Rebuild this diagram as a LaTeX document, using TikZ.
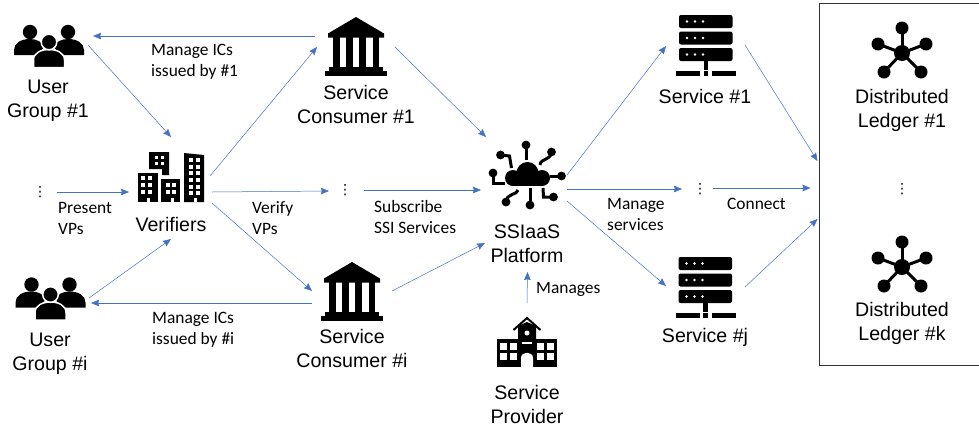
\documentclass[tikz,border=0pt]{standalone}
\usepackage{fontspec}
\setmainfont{Liberation Sans}
\newfontfamily\edgefont{Carlito}
\newfontfamily\symfont{DejaVu Sans}
\usetikzlibrary{arrows.meta}
\definecolor{linkblue}{HTML}{4472C4}
\tikzset{
    spot/.style={inner sep=0pt,minimum size=0pt},
    lbl/.style={font=\fontsize{19.6}{24}\selectfont,align=center,inner sep=0pt},
    tt/.style={font=\edgefont\fontsize{17.4}{21}\selectfont,align=left,anchor=west,inner sep=0pt},
    vdot/.style={font=\symfont\fontsize{14}{14}\selectfont,inner sep=0pt},
    conn/.style={draw=linkblue,line width=0.5pt,-{Stealth[length=8pt,width=6.5pt,inset=0.8pt]}},
    ledgerbox/.style={draw=black!80,line width=1pt,minimum width=164.5pt,minimum height=362pt,inner sep=0pt},
    usersicon/.pic={
        \fill (-19,-13) circle (7.2) (19,-13) circle (7.2);
        \fill (-35,10) -- (-35,5) .. controls (-35,-2) and (-28,-6) .. (-19,-6)
            .. controls (-12,-6) and (-7,-3) .. (-4,2) -- (-14,10) -- cycle;
        \fill (35,10) -- (35,5) .. controls (35,-2) and (28,-6) .. (19,-6)
            .. controls (12,-6) and (7,-3) .. (4,2) -- (14,10) -- cycle;
        \fill[draw=white,line width=1.5pt] (-15.5,22.5) -- (-15.5,15) .. controls (-15.5,8) and (-8,4.5) .. (0,4.5)
            .. controls (8,4.5) and (15.5,8) .. (15.5,15) -- (15.5,22.5) -- cycle;
        \fill[draw=white,line width=1.5pt] (0,-3) circle (7.8);
    },
    banksicon/.pic={
        \fill (0,-29.5) -- (28,-13) -- (28,-9) -- (-28,-9) -- (-28,-13) -- cycle;
        \foreach \x in {-23,-10,3.4,16.7} \fill (\x,-10) rectangle ++(6.6,31);
        \fill (-27,20) rectangle (27,25);
        \fill (-31,24) rectangle (31,29.5);
    },
    citysicon/.pic={
        \fill (-22,-25) -- (-2,-25) -- (-2,-2) -- (-9,-2) -- (-9,-8) -- (-22,-8) -- cycle;
        \fill (-33,-4) rectangle (-13,25);
        \fill (-10,2) rectangle (9,25);
        \fill (13,-24) -- (33,-22) -- (33,25) -- (13,25) -- cycle;
        \foreach \x in {-28,-21} \foreach \y in {1,8,15} \fill[white] (\x,\y) ++(-1.7,-1.7) rectangle ++(3.4,3.4);
        \foreach \x in {-14.5,-9} \foreach \y in {-20,-14} \fill[white] (\x,\y) ++(-1.5,-1.5) rectangle ++(3,3);
        \foreach \x in {-3,3} \foreach \y in {8,15} \fill[white] (\x,\y) ++(-1.7,-1.7) rectangle ++(3.4,3.4);
        \foreach \x in {20,27} \foreach \y in {-17,-10,-4,3,10,16} \fill[white] (\x,\y) ++(-1.6,-1.6) rectangle ++(3.2,3.2);
        \foreach \x in {-24.5,-0.5,23} \fill[white] (\x,21) rectangle ++(3,4);
    },
    cloudsicon/.pic={
        \fill (0,-2) circle (11) (-14.5,3) circle (8) (14.5,3) circle (8);
        \fill (-14.5,0) rectangle (14.5,11);
        \draw[line width=3pt] (-1.5,-30) -- (-1.5,-15);
        \draw[line width=3pt] (-27,-20) -- (-18,-19) -- (-16,-7);
        \draw[line width=3pt] (-34.5,-2) -- (-34.5,8) -- (-22.5,8);
        \draw[line width=3pt] (24,-23) .. controls (23,-14) and (13,-17) .. (12.5,-10);
        \draw[line width=3pt] (34,1) -- (22,1);
        \draw[line width=3pt] (2.5,30) -- (2.5,13);
        \draw[line width=3pt] (-21.5,27) .. controls (-21,18) and (-10,20) .. (-9.5,15);
        \draw[line width=3pt] (26,22) -- (16,22) -- (15.5,13);
        \foreach \p in {(-1.5,-30),(-27,-20),(-34.5,-2),(24,-23),(34,1),(2.5,30),(-21.5,27),(26,22)}
            \fill \p circle (4.4);
    },
    schoolicon/.pic={
        \fill (-30,-3) rectangle (30,25);
        \fill (-9,-16) -- (0,-20) -- (9,-16) -- (9,0) -- (-9,0) -- cycle;
        \draw[line width=2pt] (-13.5,-12) -- (0,-24) -- (13.5,-12);
        \foreach \x in {-27,-17,10,20} \foreach \y in {1,11} \fill[white] (\x,\y) rectangle ++(7,7);
        \fill[white] (0,-9) circle (2.5);
        \fill[white] (-5,0) rectangle (5,2);
        \fill[white] (-6,25) -- (-6,16) .. controls (-6,9) and (6,9) .. (6,16) -- (6,25) -- cycle;
    },
    serversicon/.pic={
        \foreach \y in {-30.5,-14,2.5} {
            \fill[rounded corners=2pt] (-27,\y) rectangle ++(53.5,13);
            \foreach \x in {-19,-11,-3} \fill[white] (\x,\y+6.5) circle (1.3);
        }
        \fill (-2.5,15) rectangle (2,24);
        \fill (-30,25.5) rectangle (-6,30.5);
        \fill (-2.5,25.5) rectangle (2,30.5);
        \fill (6,25.5) rectangle (30,30.5);
    },
    ledgersicon/.pic={
        \foreach \p in {(0,-25),(-24,-9),(24,-9),(-18,19),(19,19)} {
            \draw[line width=3pt] (0,0) -- \p;
            \fill \p circle (6.5);
        }
        \fill (0,0) circle (8);
    },
}
\begin{document}
\begin{tikzpicture}[x=1pt,y=-1pt]
\clip (0,0) rectangle (979,432);
\fill[white] (0,0) rectangle (979,432);
% icons
\node[spot] (ug1) at (49,45) {};
\node[spot] (ugi) at (50.5,297.5) {};
\node[spot] (ver) at (171,177) {};
\node[spot] (sc1) at (356,46.5) {};
\node[spot] (sci) at (352,291.5) {};
\node[spot] (ssi) at (527.5,175) {};
\node[spot] (spv) at (527,342) {};
\node[spot] (srv1) at (706,45.5) {};
\node[spot] (srvj) at (705.5,287.5) {};
\node[spot] (dl1) at (902,53) {};
\node[spot] (dlk) at (902,267) {};
\node[ledgerbox] (ldgr) at (901.75,184) {};
\pic at (ug1) {usersicon};
\pic at (ugi) {usersicon};
\pic at (ver) {citysicon};
\pic at (sc1) {banksicon};
\pic at (sci) {banksicon};
\pic at (ssi) {cloudsicon};
\pic at (spv) {schoolicon};
\pic at (srv1) {serversicon};
\pic at (srvj) {serversicon};
\pic at (dl1) {ledgersicon};
\pic at (dlk) {ledgersicon};
% labels
\node[lbl] (ug1t) at (48,101) {User\\Group \#1};
\node[lbl] (ugit) at (50,354) {User\\Group \#i};
\node[lbl] (vert) at (171,224.5) {Verifiers};
\node[lbl] (sc1t) at (356,104) {Service\\Consumer \#1};
\node[lbl] (scit) at (352,348) {Service\\Consumer \#i};
\node[lbl] (ssit) at (527,244) {SSIaaS\\Platform};
\node[lbl] (spvt) at (527,404) {Service\\Provider};
\node[lbl] (srv1t) at (705,96.5) {Service \#1};
\node[lbl] (srvjt) at (705,337.5) {Service \#j};
\node[lbl] (dl1t) at (902,110) {Distributed\\Ledger \#1};
\node[lbl] (dlkt) at (902,323.5) {Distributed\\Ledger \#k};
% dots
\node[vdot] (d0) at (40,192) {⋮};
\node[vdot] (d1) at (345,190) {⋮};
\node[vdot] (d2) at (700,189) {⋮};
\node[vdot] (d3) at (902,189) {⋮};
% edge labels
\node[tt] (e1) at (151,62) {Manage ICs\\issued by \#1};
\node[tt] (e2) at (58,218) {Present\\VPs};
\node[tt] (e3) at (252,218) {Verify\\VPs};
\node[tt] (e4) at (152,330) {Manage ICs\\issued by \#i};
\node[tt] (e5) at (374,217) {Subscribe\\SSI Services};
\node[tt] (e6) at (607,214) {Manage\\services};
\node[tt] (e7) at (727,203.5) {Connect};
\node[tt] (e8) at (536,289.5) {Manages};
% connectors
\draw[conn] ([shift={(-41,-10.5)}]sc1.center) -- ([shift={(44,-9)}]ug1.center);
\draw[conn] ([shift={(39,0)}]ug1.center) -- ([shift={(0,-40)}]ver.center);
\draw[conn] ([shift={(39,-1)}]ver.center) -- ([shift={(-39,0.5)}]sc1.center);
\draw[conn] ([shift={(17,0)}]d0.center) -- ([shift={(-42,15)}]ver.center);
\draw[conn] ([shift={(41,15)}]ver.center) -- ([shift={(-16,1)}]d1.center);
\draw[conn] ([shift={(41,26)}]ver.center) -- ([shift={(-40,-0.5)}]sci.center);
\draw[conn] ([shift={(38.5,0.5)}]ugi.center) -- ([shift={(0,62)}]ver.center);
\draw[conn] ([shift={(-40,11.5)}]sci.center) -- ([shift={(40.5,5.5)}]ugi.center);
\draw[conn] ([shift={(39,0.5)}]sc1.center) -- ([shift={(-41.5,-38)}]ssi.center);
\draw[conn] ([shift={(19,0)}]d1.center) -- ([shift={(-46.5,15)}]ssi.center);
\draw[conn] ([shift={(40,-0.5)}]sci.center) -- ([shift={(-42.5,68)}]ssi.center);
\draw[conn] ([shift={(0,-39)}]spv.center) -- ([shift={(0,97)}]ssi.center);
\draw[conn] ([shift={(39.5,0)}]ssi.center) -- ([shift={(-40,0.5)}]srv1.center);
\draw[conn] ([shift={(39.5,14)}]ssi.center) -- ([shift={(-18,0)}]d2.center);
\draw[conn] ([shift={(39.5,26)}]ssi.center) -- ([shift={(-39.5,-1.5)}]srvj.center);
\draw[conn] ([shift={(39,-0.5)}]srv1.center) -- ([shift={(-1.5,-23)}]ldgr.west);
\draw[conn] ([shift={(13,-1)}]d2.center) -- ([shift={(-8.5,4)}]ldgr.west);
\draw[conn] ([shift={(39.5,-0.5)}]srvj.center) -- ([shift={(-1.5,35)}]ldgr.west);
\end{tikzpicture}
\end{document}
